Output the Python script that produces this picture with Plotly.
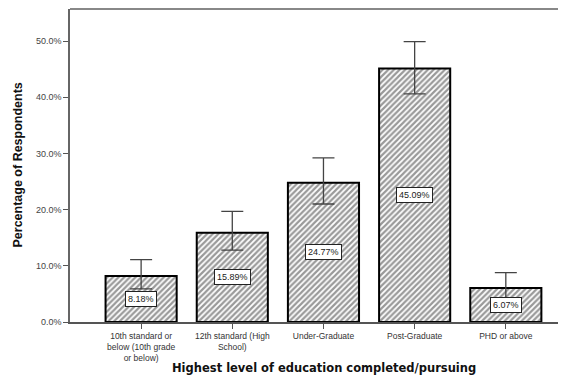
import plotly.graph_objects as go

categories = ["10th standard or<br>below (10th grade<br>or below)", "12th standard (High<br>School)",
              "Under-Graduate", "Post-Graduate", "PHD or above"]
values = [8.18, 15.89, 24.77, 45.09, 6.07]
ci_upper = [11.1, 19.7, 29.2, 49.9, 8.8]
ci_lower = [5.9, 12.8, 21.0, 40.6, 4.0]
labels = ["8.18%", "15.89%", "24.77%", "45.09%", "6.07%"]
y_ticks = [0, 10, 20, 30, 40, 50]
y_tick_text = ["0.0%", "10.0%", "20.0%", "30.0%", "40.0%", "50.0%"]

xs = list(range(len(categories)))
FONT = "Liberation Sans, Arial, sans-serif"

fig = go.Figure()
fig.add_trace(go.Bar(
    x=xs, y=values, width=0.78,
    marker=dict(color="white", line=dict(color="black", width=2),
                pattern=dict(shape="/", size=4, solidity=0.55, fgcolor="#333", bgcolor="white")),
    error_y=dict(type="data", symmetric=False,
                 array=[u - v for u, v in zip(ci_upper, values)],
                 arrayminus=[v - l for v, l in zip(values, ci_lower)],
                 color="#444", thickness=1.3, width=11),
    hoverinfo="skip",
))

for x, v, t in zip(xs, values, labels):
    fig.add_annotation(x=x, y=v / 2, text=t, showarrow=False,
                       font=dict(family=FONT, size=9, color="#222"),
                       bgcolor="white", bordercolor="#222", borderwidth=1, borderpad=2)

fig.add_shape(type="line", xref="paper", yref="paper", x0=0, x1=1, y0=1, y1=1,
              line=dict(color="#888", width=2))

fig.add_annotation(xref="paper", yref="paper", x=0.5, y=0, yanchor="middle", yshift=-46, xshift=6,
                   text="<b>Highest level of education completed/pursuing</b>", showarrow=False,
                   font=dict(family="DejaVu Sans, Verdana, sans-serif", size=11.5, color="#111"))
fig.add_annotation(xref="paper", yref="paper", x=0, y=0.5, xanchor="center", xshift=-53,
                   textangle=-90, text="<b>Percentage of Respondents</b>", showarrow=False,
                   font=dict(family=FONT, size=12.5, color="#111"))

fig.update_layout(
    width=558, height=369,
    margin=dict(l=62, r=0, t=1, b=55),
    plot_bgcolor="white", paper_bgcolor="white",
    showlegend=False,
    font=dict(family=FONT, color="#333"),
    xaxis=dict(range=[-0.78, 4.66], tickvals=xs, ticktext=categories, automargin=False,
               showline=True, linecolor="#555", linewidth=1.5,
               ticks="outside", ticklen=5, tickcolor="#555", showgrid=False, zeroline=False,
               tickfont=dict(size=8.5, color="#333")),
    yaxis=dict(range=[0, 55.7], tickvals=y_ticks, ticktext=y_tick_text, automargin=False,
               showline=True, linecolor="#666", linewidth=1.5,
               ticks="outside", ticklen=5, tickcolor="#555", showgrid=False, zeroline=False,
               tickfont=dict(size=9, color="#444")),
)

fig.write_html("out.html")
